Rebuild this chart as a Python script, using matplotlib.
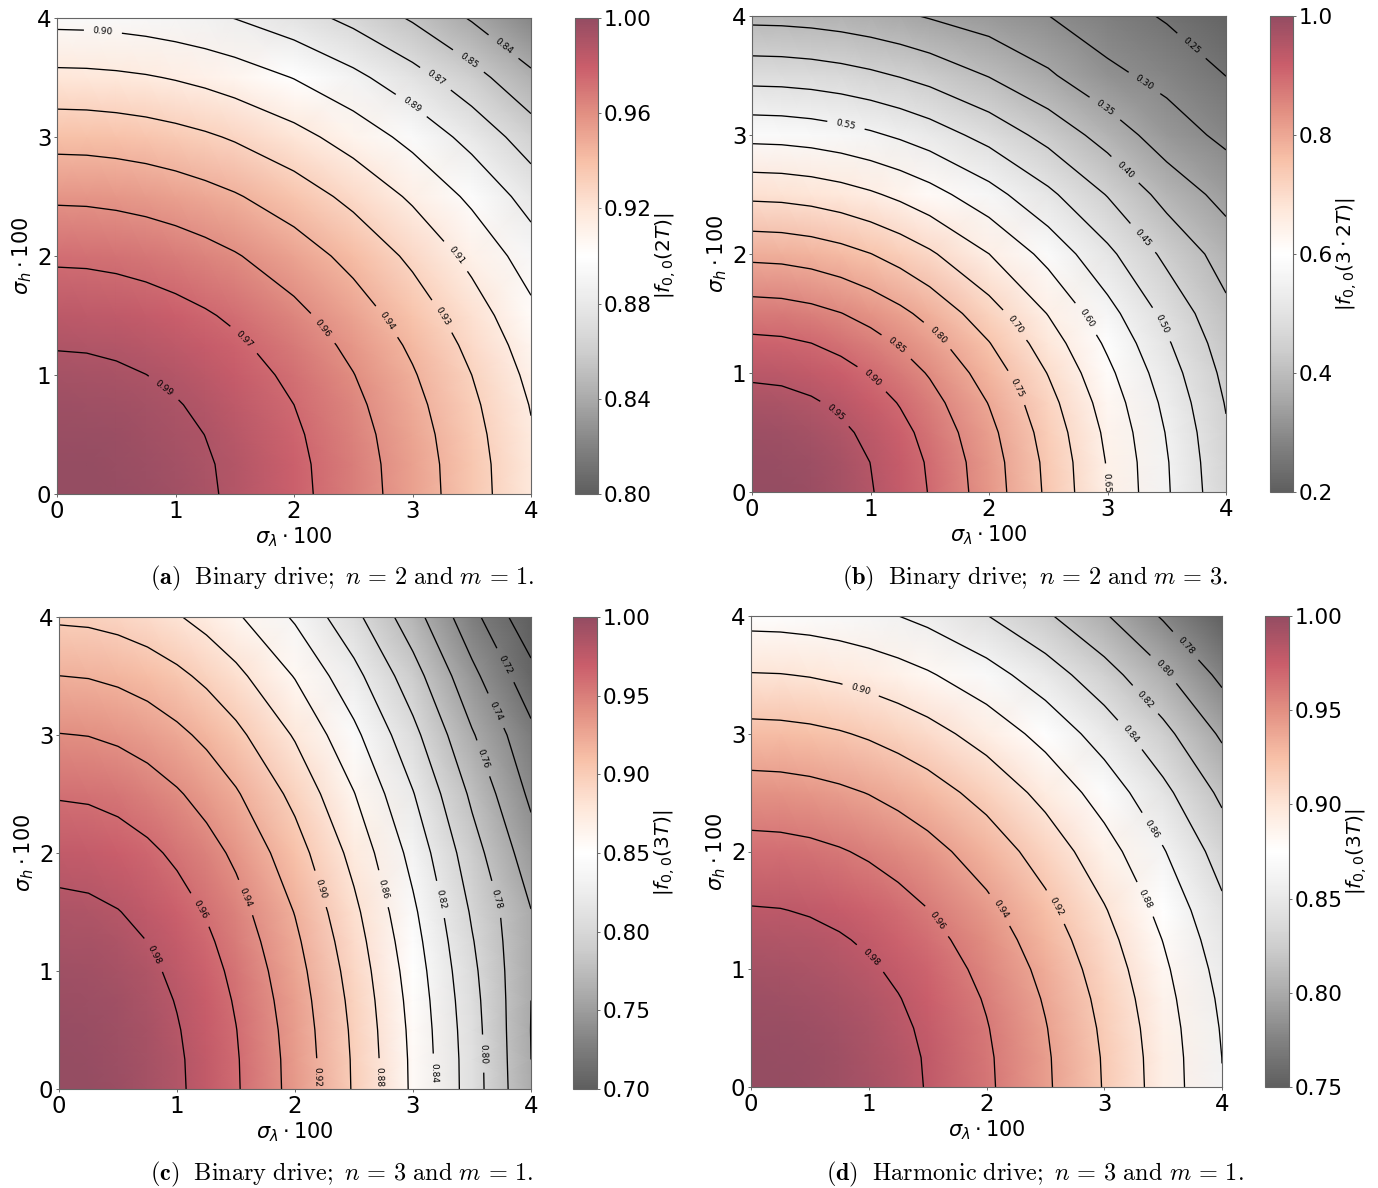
"""Four fidelity maps |f_00| vs sigma_lambda and sigma_h, 2x2 layout with own colorbars."""
import matplotlib

matplotlib.use("Agg")
import matplotlib.pyplot as plt
import numpy as np
from matplotlib.colors import ListedColormap

W, H = 1378, 1188

# grid nodes of the read-off values (rows: sigma_h, columns: sigma_lambda)
sigma = [0, 0.25, 0.5, 0.75, 1, 1.25, 1.5, 2, 2.5, 3, 3.5, 4]

vals_a = [
    [1.0000, .9997, .9987, .9970, .9947, .9917, .9880, .9788, .9671, .9529, .9365, .9178],
    [.9996, .9993, .9982, .9966, .9942, .9912, .9876, .9784, .9666, .9525, .9361, .9174],
    [.9983, .9980, .9969, .9953, .9929, .9899, .9863, .9771, .9654, .9513, .9348, .9162],
    [.9961, .9958, .9948, .9931, .9908, .9878, .9842, .9750, .9633, .9492, .9328, .9143],
    [.9931, .9928, .9918, .9901, .9878, .9848, .9812, .9721, .9604, .9463, .9300, .9115],
    [.9893, .9890, .9880, .9863, .9840, .9810, .9774, .9683, .9567, .9427, .9264, .9080],
    [.9846, .9843, .9833, .9816, .9793, .9764, .9728, .9637, .9521, .9382, .9220, .9037],
    [.9728, .9725, .9715, .9699, .9676, .9647, .9611, .9522, .9407, .9270, .9110, .8928],
    [.9578, .9575, .9565, .9549, .9527, .9498, .9463, .9375, .9262, .9127, .8969, .8791],
    [.9398, .9395, .9385, .9370, .9348, .9320, .9285, .9199, .9088, .8955, .8801, .8625],
    [.9189, .9186, .9177, .9162, .9140, .9113, .9079, .8995, .8887, .8757, .8605, .8434],
    [.8955, .8952, .8943, .8928, .8907, .8880, .8847, .8765, .8660, .8533, .8386, .8219],
]
vals_b = [
    [1.0000, .9970, .9881, .9734, .9531, .9277, .8976, .8253, .7408, .6492, .5554, .4640],
    [.9963, .9933, .9844, .9698, .9496, .9242, .8943, .8222, .7380, .6468, .5533, .4600],
    [.9852, .9823, .9735, .9590, .9390, .9140, .8843, .8131, .7298, .6396, .5472, .4550],
    [.9670, .9641, .9555, .9413, .9217, .8971, .8680, .7981, .7164, .6278, .5371, .4470],
    [.9421, .9393, .9309, .9170, .8979, .8740, .8456, .7775, .6979, .6116, .5232, .4370],
    [.9111, .9083, .9002, .8868, .8683, .8452, .8178, .7519, .6749, .5915, .5060, .4250],
    [.8745, .8719, .8641, .8512, .8335, .8113, .7849, .7217, .6478, .5677, .4857, .4110],
    [.7879, .7855, .7785, .7669, .7510, .7309, .7072, .6503, .5837, .5115, .4376, .3790],
    [.6890, .6869, .6808, .6707, .6567, .6392, .6184, .5686, .5104, .4473, .3827, .3330],
    [.5848, .5830, .5778, .5692, .5574, .5425, .5249, .4826, .4332, .3797, .3230, .2890],
    [.4819, .4805, .4762, .4691, .4593, .4471, .4326, .3977, .3570, .3110, .2860, .2495],
    [.3854, .3842, .3808, .3751, .3673, .3575, .3459, .3250, .3005, .2730, .2445, .2150],
]
vals_c = [
    [1.0000, .9989, .9957, .9904, .9829, .9735, .9620, .9335, .8981, .8566, .8100, .7610],
    [.9996, .9985, .9953, .9900, .9825, .9731, .9616, .9331, .8977, .8562, .8097, .7600],
    [.9983, .9972, .9940, .9887, .9812, .9718, .9604, .9319, .8966, .8551, .8086, .7596],
    [.9962, .9951, .9919, .9866, .9791, .9698, .9583, .9299, .8947, .8533, .8069, .7600],
    [.9932, .9921, .9889, .9837, .9762, .9669, .9555, .9272, .8920, .8508, .8045, .7604],
    [.9894, .9883, .9852, .9799, .9725, .9632, .9518, .9236, .8886, .8475, .8014, .7605],
    [.9848, .9837, .9806, .9753, .9680, .9587, .9474, .9193, .8845, .8436, .7977, .7606],
    [.9732, .9721, .9690, .9638, .9566, .9474, .9362, .9085, .8740, .8336, .7883, .7488],
    [.9584, .9574, .9543, .9492, .9420, .9330, .9220, .8947, .8607, .8210, .7763, .7360],
    [.9406, .9396, .9366, .9316, .9245, .9157, .9049, .8781, .8448, .8057, .7619, .7250],
    [.9201, .9191, .9161, .9113, .9044, .8957, .8851, .8589, .8263, .7882, .7453, .7070],
    [.8969, .8959, .8930, .8883, .8816, .8731, .8628, .8373, .8055, .7683, .7265, .6840],
]
vals_d = [
    [1.0000, .9994, .9977, .9947, .9906, .9854, .9791, .9631, .9429, .9189, .8912, .8604],
    [.9995, .9989, .9972, .9942, .9901, .9849, .9786, .9626, .9424, .9184, .8907, .8599],
    [.9979, .9973, .9955, .9926, .9885, .9833, .9770, .9610, .9409, .9169, .8893, .8585],
    [.9952, .9946, .9929, .9900, .9859, .9807, .9744, .9585, .9384, .9145, .8869, .8563],
    [.9915, .9909, .9892, .9863, .9822, .9771, .9708, .9550, .9350, .9111, .8837, .8531],
    [.9868, .9862, .9845, .9816, .9776, .9724, .9662, .9504, .9305, .9068, .8795, .8490],
    [.9811, .9805, .9787, .9758, .9719, .9668, .9605, .9449, .9251, .9015, .8743, .8441],
    [.9666, .9660, .9643, .9614, .9575, .9525, .9463, .9309, .9114, .8882, .8614, .8316],
    [.9483, .9477, .9460, .9432, .9394, .9344, .9284, .9133, .8942, .8713, .8451, .8159],
    [.9264, .9258, .9242, .9215, .9177, .9128, .9070, .8922, .8735, .8512, .8256, .7970],
    [.9011, .9006, .8990, .8964, .8927, .8880, .8822, .8678, .8497, .8280, .8031, .7753],
    [.8728, .8723, .8708, .8682, .8647, .8601, .8546, .8406, .8230, .8020, .7779, .7510],
]

levels_a = [.84, .855, .87, .885, .90, .915, .93, .945, .96, .975, .99]
labels_a = ["0.84", "0.85", "0.87", "0.89", "0.90", "0.91", "0.93", "0.94", "0.96", "0.97", "0.99"]
levels_b = [.25, .30, .35, .40, .45, .50, .55, .60, .65, .70, .75, .80, .85, .90, .95]
labels_b = ["%.2f" % v for v in levels_b]
levels_c = [.70, .72, .74, .76, .78, .80, .82, .84, .86, .88, .90, .92, .94, .96, .98]
labels_c = ["%.2f" % v for v in levels_c]
levels_d = [.78, .80, .82, .84, .86, .88, .90, .92, .94, .96, .98]
labels_d = ["%.2f" % v for v in levels_d]

# where the inline contour labels sit, in data coordinates
spots_a = [(.90, .89), (1.58, 1.30), (2.24, 1.39), (2.80, 1.46), (3.26, 1.50), (3.38, 2.01),
           (.39, 3.92), (3.0, 3.28), (3.21, 3.51), (3.50, 3.68), (3.80, 3.80)]
spots_b = [(.70, .66), (1.0, .94), (1.21, 1.21), (1.55, 1.30), (2.20, .86), (2.20, 1.39),
           (2.99, .08), (2.81, 1.45), (.79, 3.07), (3.44, 1.40), (3.28, 2.12), (3.15, 2.71),
           (2.97, 3.21), (3.30, 3.42), (3.70, 3.74)]
spots_c = [(.81, 1.14), (1.20, 1.52), (1.60, 1.63), (2.20, .10), (2.23, 1.70), (2.74, .10),
           (2.76, 1.70), (3.20, .14), (3.25, 1.61), (3.59, .30), (3.68, 1.60), (3.59, 2.80),
           (3.69, 3.20), (3.78, 3.59)]
spots_d = [(1.03, 1.11), (1.58, 1.41), (2.12, 1.51), (2.59, 1.53), (.94, 3.40), (3.36, 1.60),
           (3.42, 2.20), (3.23, 3.0), (3.36, 3.30), (3.55, 3.59), (3.76, 3.81)]

ticks_a = [.80, .84, .88, .92, .96, 1.00]
ticks_b = [.2, .4, .6, .8, 1.0]
ticks_c = [.70, .75, .80, .85, .90, .95, 1.00]
ticks_d = [.75, .80, .85, .90, .95, 1.00]

# RdGy_r at alpha 0.7 over white, opaque so the gouraud triangles do not show their seams
_rgba = matplotlib.colormaps["RdGy_r"](np.linspace(0, 1, 256))
_rgba[:, :3] = 0.7 * _rgba[:, :3] + 0.3
CMAP = ListedColormap(_rgba)


def px_axes(fig, x0, y0, x1, y1):
    # box given in image pixels, y going down
    return fig.add_axes([x0 / W, 1 - y1 / H, (x1 - x0) / W, (y1 - y0) / H])


def draw_panel(fig, box, cbox, vals, levels, labels, spots, ticks, tick_fmt, cbar_label):
    ax = px_axes(fig, *box)
    cax = px_axes(fig, *cbox)
    z = np.array(vals)
    mesh = ax.pcolormesh(sigma, sigma, z, shading="gouraud", cmap=CMAP,
                         vmin=ticks[0], vmax=ticks[-1])
    cs = ax.contour(sigma, sigma, z, levels=levels, colors="black", linewidths=0.95)
    ax.clabel(cs, fmt=dict(zip(levels, labels)), fontsize=6.5, manual=spots, inline_spacing=9)
    ax.set_xlim(0, 4)
    ax.set_ylim(0, 4)
    ax.set_xticks(range(5))
    ax.set_yticks(range(5))
    ax.tick_params(labelsize=16.5, length=2.5, width=0.7, pad=1.5, color="0.4")
    ax.set_xlabel(r"$\sigma_\lambda \cdot 100$", fontsize=15, labelpad=2)
    ax.set_ylabel(r"$\sigma_h \cdot 100$", fontsize=15, labelpad=2)
    for sp in ax.spines.values():
        sp.set_color("0.4")
        sp.set_linewidth(0.8)

    cbar = fig.colorbar(mesh, cax=cax, ticks=ticks, format=tick_fmt)
    cbar.ax.tick_params(labelsize=15.5, length=2.5, width=0.7, pad=1.5, color="0.4")
    cbar.outline.set_edgecolor("0.4")
    cbar.outline.set_linewidth(0.8)
    cbar.set_label(cbar_label, fontsize=14.5, labelpad=1)


def caption(fig, x, y, letter, drive, n, m):
    txt = (r"$\mathbf{(%s)}\ \ \mathrm{%s\ drive;}\ n\,=\,%d\ \mathrm{and}\ m\,=\,%d.$"
           % (letter, drive, n, m))
    fig.text(x / W, 1 - y / H, txt, fontsize=17.5, math_fontfamily="cm", va="center", ha="left")


def main():
    fig = plt.figure(figsize=(W / 100, H / 100), dpi=100)

    draw_panel(fig, (57, 18, 531, 494), (575, 18, 598, 494), vals_a, levels_a, labels_a,
               spots_a, ticks_a, "%.2f", r"$|f_{0,0}(2T)|$")
    draw_panel(fig, (752, 16, 1226, 492), (1270, 16, 1293, 492), vals_b, levels_b, labels_b,
               spots_b, ticks_b, "%.1f", r"$|f_{0,0}(3\cdot 2T)|$")
    draw_panel(fig, (59, 617, 531, 1089), (573, 617, 597, 1089), vals_c, levels_c, labels_c,
               spots_c, ticks_c, "%.2f", r"$|f_{0,0}(3T)|$")
    draw_panel(fig, (751, 616, 1222, 1087), (1265, 616, 1289, 1087), vals_d, levels_d, labels_d,
               spots_d, ticks_d, "%.2f", r"$|f_{0,0}(3T)|$")

    caption(fig, 150, 578, "a", "Binary", 2, 1)
    caption(fig, 842, 578, "b", "Binary", 2, 3)
    caption(fig, 150, 1174, "c", "Binary", 3, 1)
    caption(fig, 826, 1174, "d", "Harmonic", 3, 1)

    fig.savefig("out.png", dpi=100)
    plt.close(fig)


if __name__ == "__main__":
    main()
